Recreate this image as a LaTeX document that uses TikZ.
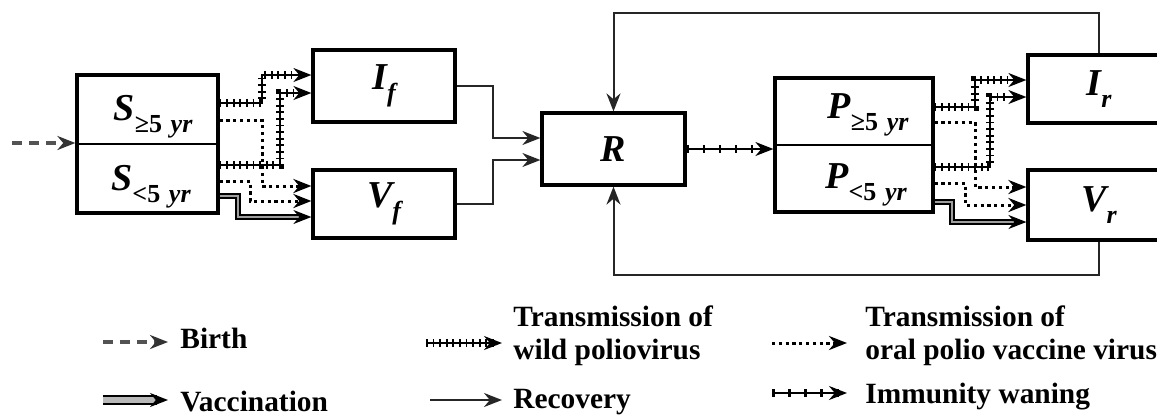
\documentclass[tikz,border=0pt]{standalone}
\usepackage{fontspec}
\setmainfont{Liberation Serif}
\usetikzlibrary{arrows.meta, positioning}

\tikzset{
  cbox/.style={draw, line width=1.6pt, inner sep=0pt},
  tip/.style={-{Stealth[length=9pt,width=7pt]}},
  recov/.style={tip, line width=1pt, draw=black!85},
  wild/.style={tip, line width=0.9pt,
    postaction={draw, -, line width=3.8pt, dash pattern=on 0.9pt off 2.4pt, shorten >=8.5pt}},
  opv/.style={tip, line width=1.5pt, dash pattern=on 1.6pt off 1.8pt},
  vacc/.style={tip, draw=black, line width=0.8pt, double=gray!75, double distance=1.1pt},
  birth/.style={-{Stealth[length=9pt,width=7pt,color=black!80]}, draw=gray!65!black,
    line width=1.6pt, dash pattern=on 5pt off 3.5pt},
  wane/.style={tip, line width=0.9pt,
    postaction={draw, -, line width=4pt, dash pattern=on 1.3pt off 6.7pt, shorten >=8.5pt}},
  lbl/.style={font=\fontsize{19}{19}\selectfont\bfseries\itshape},
  legtxt/.style={anchor=west, align=left, inner xsep=0pt, font=\fontsize{14.7}{16.5}\selectfont\bfseries},
}
\newcommand{\subtx}[1]{\raisebox{-0.32em}{\fontsize{13}{13}\selectfont #1}}

\begin{document}
\begin{tikzpicture}[x=0.5pt, y=-0.5pt]
  \clip (0,0) rectangle (1157,419);

  % compartments
  \node[cbox, minimum width=70.5pt, minimum height=69pt] (Sbox) at (147.5,144) {};
  \draw[line width=0.6pt] (Sbox.west) -- (Sbox.east);
  \node[lbl] (Sold) at (153,117) {S\subtx{{\upshape ≥5}\,\,yr}};
  \node[lbl] (Syoung) at (151,187) {S\subtx{{\upshape <5}\,\,yr}};

  \node[cbox, lbl, minimum width=71pt, minimum height=36pt] (If) at (384,86) {I\subtx{f}};
  \node[cbox, lbl, minimum width=71pt, minimum height=34pt] (Vf) at (384,204) {V\subtx{f}};
  \node[cbox, lbl, minimum width=71.5pt, minimum height=36pt] (R) at (613.5,149) {R};

  \node[cbox, minimum width=79pt, minimum height=67pt] (Pbox) at (854,145) {};
  \draw[line width=0.6pt] (Pbox.west) -- (Pbox.east);
  \node[lbl] (Pold) at (868,115) {P\subtx{{\upshape ≥5}\,\,yr}};
  \node[lbl] (Pyoung) at (866,185) {P\subtx{{\upshape <5}\,\,yr}};

  \node[cbox, lbl, minimum width=71pt, minimum height=34pt] (Ir) at (1099,89) {I\subtx{r}};
  \node[cbox, lbl, minimum width=71pt, minimum height=35pt] (Vr) at (1099,205) {V\subtx{r}};

  % birth
  \coordinate (bin) at (12,143);
  \draw[birth] (bin) -- (Sbox.west |- bin);

  % first infection side
  \draw[wild] (Sbox.east |- 0,103) -- (262,103) |- (If.west |- 0,75);
  \draw[opv] (Sbox.east |- 0,120) -- (262,120) |- (Vf.west |- 0,186);
  \draw[wild] (Sbox.east |- 0,165) -- (280,165) |- (If.west |- 0,93);
  \draw[opv] (Sbox.east |- 0,181) -- (250,181) |- (Vf.west |- 0,201);
  \draw[vacc] (Sbox.east |- 0,196) -- (238,196) |- (Vf.west |- 0,217);

  % recovery
  \draw[recov] (If.east) -- (If.east -| 493,0) |- (R.west |- 0,138);
  \draw[recov] (Vf.east) -- (Vf.east -| 493,0) |- (R.west |- 0,160);
  \draw[recov] (Ir.north) -- (Ir.north |- 0,13) -| (R.north);
  \draw[recov] (Vr.south) -- (Vr.south |- 0,275) -| (R.south);

  % waning
  \draw[wane] (R.east) -- (Pbox.west |- R.east);

  % reinfection side
  \draw[wild] (Pbox.east |- 0,107) -- (975,107) |- (Ir.west |- 0,80);
  \draw[opv] (Pbox.east |- 0,122) -- (975,122) |- (Vr.west |- 0,187);
  \draw[wild] (Pbox.east |- 0,167) -- (990,167) |- (Ir.west |- 0,97);
  \draw[opv] (Pbox.east |- 0,183) -- (965,183) |- (Vr.west |- 0,205);
  \draw[vacc] (Pbox.east |- 0,202) -- (952,202) |- (Vr.west |- 0,222);

  % legend
  \node[legtxt] (lgbirth) at (180,338) {Birth};
  \node[legtxt] (lgvacc) at (180,402) {Vaccination};
  \node[legtxt] (lgwild) at (513,336) {Transmission of\\wild poliovirus};
  \node[legtxt] (lgrecov) at (513,402) {Recovery};
  \node[legtxt] (lgopv) at (865,336) {Transmission of\\oral polio vaccine virus};
  \node[legtxt] (lgwane) at (865,397) {Immunity waning};

  \coordinate (kb) at (103,342);
  \coordinate (kv) at (103,400);
  \coordinate (kw) at (426,343);
  \coordinate (kr) at (430,400);
  \coordinate (ko) at (772,343);
  \coordinate (kn) at (772,393);
  \draw[birth, shorten >=6pt] (kb) -- (kb -| lgbirth.west);
  \draw[vacc, double=gray!55, line width=1pt, double distance=2.8pt, shorten >=6pt] (kv) -- (kv -| lgvacc.west);
  \draw[wild, shorten >=5.5pt] (kw) -- (kw -| lgwild.west);
  \draw[recov, shorten >=5.5pt] (kr) -- (kr -| lgrecov.west);
  \draw[opv, shorten >=9pt] (ko) -- (ko -| lgopv.west);
  \draw[wane, shorten >=9pt] (kn) -- (kn -| lgwane.west);
\end{tikzpicture}
\end{document}
